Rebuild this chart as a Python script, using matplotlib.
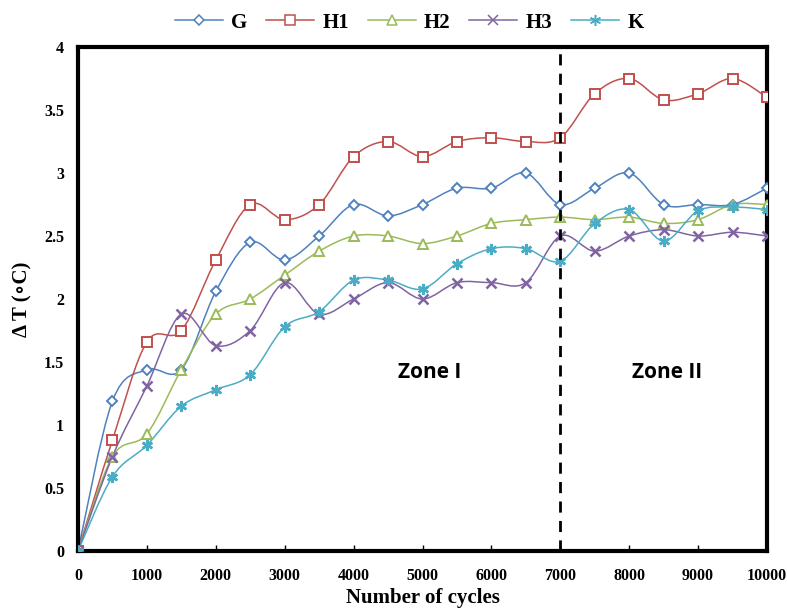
import numpy as np
import matplotlib
matplotlib.use("Agg")
import matplotlib.pyplot as plt
from matplotlib.path import Path
from matplotlib.patches import PathPatch
from matplotlib.lines import Line2D

cycles = [0, 500, 1000, 1500, 2000, 2500, 3000, 3500, 4000, 4500, 5000,
          5500, 6000, 6500, 7000, 7500, 8000, 8500, 9000, 9500, 10000]

g_vals = [0, 1.19, 1.44, 1.44, 2.06, 2.45, 2.31, 2.5, 2.75, 2.66, 2.75,
          2.88, 2.88, 3.0, 2.75, 2.88, 3.0, 2.75, 2.75, 2.75, 2.88]
h1_vals = [0, 0.88, 1.66, 1.75, 2.31, 2.75, 2.63, 2.75, 3.13, 3.25, 3.13,
           3.25, 3.28, 3.25, 3.28, 3.63, 3.75, 3.58, 3.63, 3.75, 3.6]
h2_vals = [0, 0.75, 0.93, 1.44, 1.88, 2.0, 2.19, 2.38, 2.5, 2.5, 2.44,
           2.5, 2.6, 2.63, 2.65, 2.63, 2.65, 2.6, 2.63, 2.75, 2.75]
h3_vals = [0, 0.75, 1.31, 1.88, 1.63, 1.75, 2.13, 1.88, 2.0, 2.13, 2.0,
           2.13, 2.13, 2.13, 2.5, 2.38, 2.5, 2.55, 2.5, 2.53, 2.5]
k_vals = [0, 0.59, 0.84, 1.15, 1.28, 1.4, 1.78, 1.9, 2.15, 2.15, 2.08,
          2.28, 2.4, 2.4, 2.3, 2.6, 2.71, 2.46, 2.7, 2.73, 2.71]

series_names = ["G", "H1", "H2", "H3", "K"]
series_vals = [g_vals, h1_vals, h2_vals, h3_vals, k_vals]
colors = ["#4F81BD", "#C0504D", "#9BBB59", "#8064A2", "#4BACC6"]
markers = ["D", "s", "^", "x", (6, 2, 0)]
msizes = [5, 7, 7, 7, 8]
filled = [False, False, False, True, True]

serif = ["Liberation Serif", "DejaVu Serif"]


def smooth_path(xs, ys):
    # Excel-style smoothed line: cubic Bezier through each point
    pts = np.column_stack([xs, ys]).astype(float)
    n = len(pts)
    verts = [pts[0]]
    codes = [Path.MOVETO]
    for i in range(n - 1):
        p0 = pts[i - 1] if i > 0 else pts[i]
        p1 = pts[i]
        p2 = pts[i + 1]
        p3 = pts[i + 2] if i + 2 < n else pts[i + 1]
        c1 = p1 + (p2 - p0) / 6.0
        c2 = p2 - (p3 - p1) / 6.0
        verts += [c1, c2, p2]
        codes += [Path.CURVE4] * 3
    return Path(verts, codes)


fig = plt.figure(figsize=(7.87, 6.09), dpi=100)
ax = fig.add_axes([0.0991, 0.0952, 0.8755, 0.8276])

handles = []
for name, vals, c, m, ms, f in zip(series_names, series_vals, colors, markers, msizes, filled):
    ax.add_patch(PathPatch(smooth_path(cycles, vals), facecolor="none",
                           edgecolor=c, lw=1.1, zorder=2))
    if f:
        ax.plot(cycles, vals, ls="none", marker=m, ms=ms, color=c, mew=1.8, zorder=3)
        h = Line2D([], [], color=c, lw=1.1, marker=m, ms=ms, mew=1.1)
    else:
        ax.plot(cycles, vals, ls="none", marker=m, ms=ms, mfc="white",
                mec=c, mew=1.4, zorder=3)
        h = Line2D([], [], color=c, lw=1.1, marker=m, ms=ms, mfc="white", mec=c, mew=1.1)
    handles.append(h)

ax.plot([7000, 7000], [0, 4], color="black", ls=(0, (4, 3)), lw=2, zorder=4)

ax.text(5100, 1.42, "Zone I", ha="center", va="center", fontsize=15,
        fontweight="bold", family=["Open Sans", "DejaVu Sans"])
ax.text(8550, 1.42, "Zone II", ha="center", va="center", fontsize=15,
        fontweight="bold", family=["Open Sans", "DejaVu Sans"])

ax.set_xlim(0, 10000)
ax.set_ylim(0, 4)
ax.set_xticks(range(0, 10001, 1000))
ax.set_yticks([0, 0.5, 1, 1.5, 2, 2.5, 3, 3.5, 4])
ax.set_yticklabels(["0", "0.5", "1", "1.5", "2", "2.5", "3", "3.5", "4"])
for lab in ax.get_xticklabels() + ax.get_yticklabels():
    lab.set_fontfamily(serif)
    lab.set_fontweight("bold")
    lab.set_fontsize(11.5)
ax.tick_params(axis="x", direction="in", length=4, width=1, pad=12)
ax.tick_params(axis="y", length=0, pad=10)
for sp in ax.spines.values():
    sp.set_linewidth(3)
    sp.set_color("black")

ax.set_xlabel("Number of cycles", fontsize=15, fontweight="bold", family=serif, labelpad=3)
ax.set_ylabel("Δ T (∘C)", fontsize=15, fontweight="bold", family=serif, labelpad=8)

fig.legend(handles, series_names, loc="upper center", bbox_to_anchor=(0.52, 1.01),
           ncol=5, frameon=False, handlelength=2.3, handletextpad=0.4,
           columnspacing=0.9, prop={"family": serif, "weight": "bold", "size": 15})

fig.savefig("out.png", dpi=100)
